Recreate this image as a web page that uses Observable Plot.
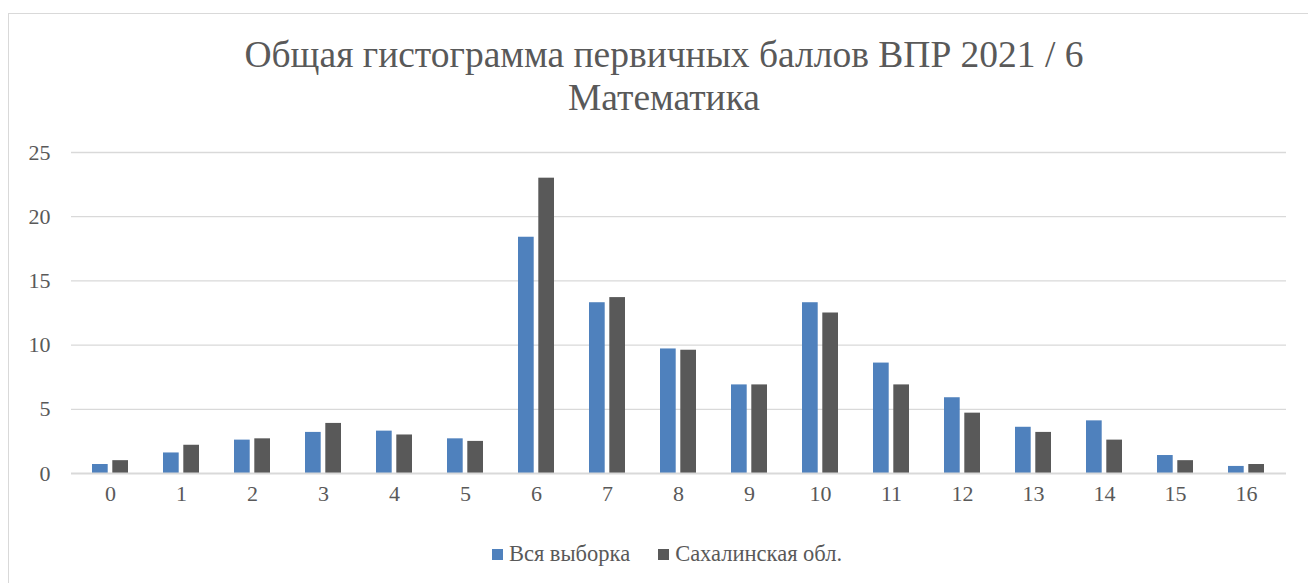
<!DOCTYPE html>
<html>
<head>
<meta charset="utf-8">
<script src="https://cdn.jsdelivr.net/npm/d3@7"></script>
<script src="https://cdn.jsdelivr.net/npm/@observablehq/plot@0.6"></script>
<style>
  html, body { margin: 0; padding: 0; background: #fff; overflow: hidden; }
  body { width: 1308px; height: 583px; position: relative; color: #595959; font-family: 'Liberation Serif', serif; }
  #frame { position: absolute; left: 8px; top: 13px; width: 1320px; height: 600px; border: 1px solid #d9d9d9; box-sizing: border-box; }
  #title { position: absolute; left: 0; width: 1328px; top: 33px; text-align: center; font-size: 37.5px; line-height: 43px; color: #595959; }
  #chart { position: absolute; left: 0; top: 130px; }
  #legend { position: absolute; top: 541px; left: 0; width: 1334px; text-align: center; font-size: 22.5px; color: #595959; }
  .item { display: inline-block; margin: 0 14px; }
  .sw { display: inline-block; width: 11px; height: 11px; margin-right: 6px; vertical-align: 1px; }
</style>
</head>
<body>
<div id="frame"></div>
<div id="title">Общая гистограмма первичных баллов ВПР 2021 / 6<br>Математика</div>
<div id="chart"></div>
<div id="legend"></div>
<script>
const scores = ["0","1","2","3","4","5","6","7","8","9","10","11","12","13","14","15","16"];
const allSample = [0.7, 1.6, 2.6, 3.2, 3.3, 2.7, 18.4, 13.3, 9.7, 6.9, 13.3, 8.6, 5.9, 3.6, 4.1, 1.4, 0.55];
const sakhalin = [1.0, 2.2, 2.7, 3.9, 3.0, 2.5, 23.0, 13.7, 9.6, 6.9, 12.5, 6.9, 4.7, 3.2, 2.6, 1.0, 0.7];
const seriesNames = ["Вся выборка", "Сахалинская обл."];
const seriesColors = ["#4f81bd", "#595959"];
const yTicks = [0, 5, 10, 15, 20, 25];

const dataA = scores.map((s, i) => ({score: s, value: allSample[i]}));
const dataB = scores.map((s, i) => ({score: s, value: sakhalin[i]}));

const chart = Plot.plot({
  width: 1308,
  height: 393,
  marginLeft: 71,
  marginRight: 22,
  marginTop: 22,
  marginBottom: 50,
  style: {fontFamily: "'Liberation Serif', serif", fontSize: "22px", color: "#595959", background: "transparent"},
  x: {domain: scores, paddingInner: 0.488, paddingOuter: 0.244, label: null, tickSize: 0, tickPadding: 12},
  y: {domain: [0, 25], ticks: yTicks, label: null, tickSize: 0, tickPadding: 21},
  marks: [
    Plot.ruleY(yTicks.filter(d => d > 0), {stroke: "#d9d9d9", strokeWidth: 1.3}),
    Plot.barY(dataA, {x: "score", y: "value", fill: seriesColors[0], insetRight: 20.3}),
    Plot.barY(dataB, {x: "score", y: "value", fill: seriesColors[1], insetLeft: 20.3}),
    Plot.ruleY([0], {stroke: "#d9d9d9", strokeWidth: 2})
  ]
});
document.getElementById("chart").appendChild(chart);

const legend = document.getElementById("legend");
seriesNames.forEach((name, i) => {
  const item = document.createElement("span");
  item.className = "item";
  const sw = document.createElement("span");
  sw.className = "sw";
  sw.style.background = seriesColors[i];
  item.appendChild(sw);
  item.appendChild(document.createTextNode(name));
  legend.appendChild(item);
});
</script>
</body>
</html>
